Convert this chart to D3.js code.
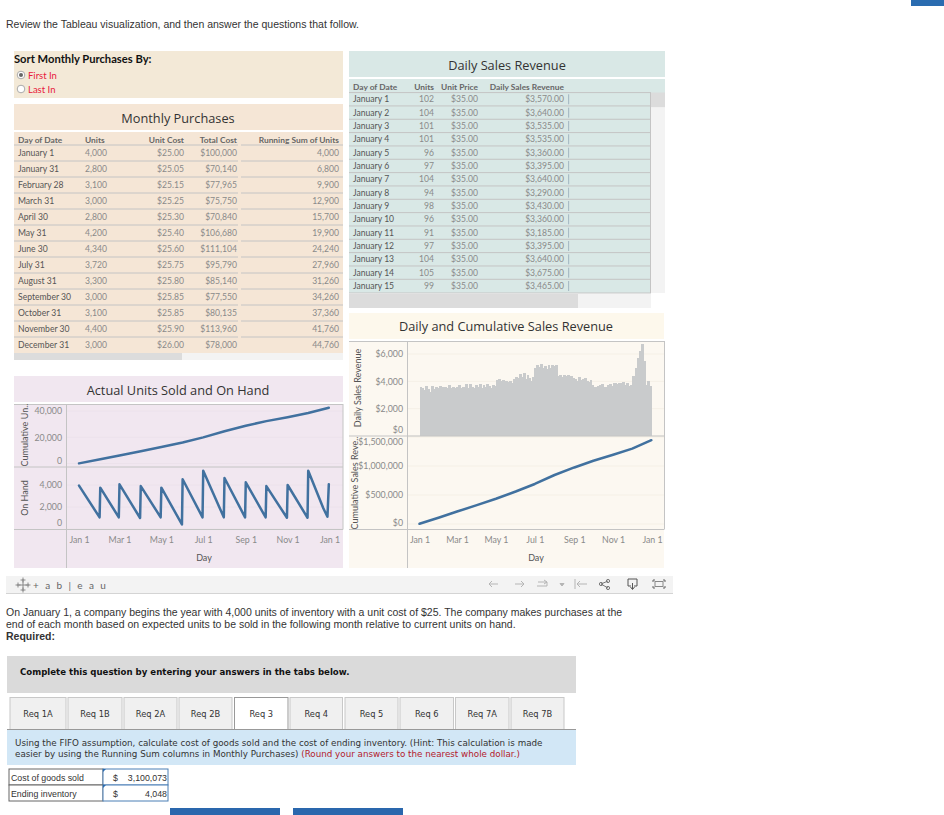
<!DOCTYPE html>
<html>
<head>
<meta charset="utf-8">
<title>Tableau visualization</title>
<script src="https://cdn.jsdelivr.net/npm/d3@7"></script>
<style>
  html, body { margin: 0; padding: 0; background: #fff; overflow: hidden; }
  svg { display: block; }
  text { font-family: Lato, "Open Sans", sans-serif; }
  .page { font-family: "Liberation Sans", Arial, sans-serif; font-size: 10.5px; fill: #333; }
  .verd { font-family: "DejaVu Sans", Verdana, sans-serif; font-size: 8.3px; fill: #333; }
  .title { font-family: "Open Sans", sans-serif; font-size: 12.75px; fill: #333; text-anchor: middle; dominant-baseline: central; }
  .hdr { font-size: 8.4px; fill: #666; font-weight: 700; dominant-baseline: central; }
  .dim { font-size: 8.6px; fill: #555; dominant-baseline: central; }
  .val { font-size: 8.6px; fill: #8a8a8a; dominant-baseline: central; }
  .tick text { font-size: 8.8px; fill: #8a8a8a; font-family: Lato, sans-serif; }
  .axis-title { font-size: 9px; fill: #555; text-anchor: middle; }
</style>
</head>
<body>
<svg id="chart" width="944" height="815"></svg>
<script>
// Monthly purchases table
const purchaseDates = ['January 1', 'January 31', 'February 28', 'March 31', 'April 30', 'May 31', 'June 30', 'July 31', 'August 31', 'September 30', 'October 31', 'November 30', 'December 31'];
const purchaseUnits = ['4,000', '2,800', '3,100', '3,000', '2,800', '4,200', '4,340', '3,720', '3,300', '3,000', '3,100', '4,400', '3,000'];
const purchaseUnitCost = ['$25.00', '$25.05', '$25.15', '$25.25', '$25.30', '$25.40', '$25.60', '$25.75', '$25.80', '$25.85', '$25.85', '$25.90', '$26.00'];
const purchaseTotalCost = ['$100,000', '$70,140', '$77,965', '$75,750', '$70,840', '$106,680', '$111,104', '$95,790', '$85,140', '$77,550', '$80,135', '$113,960', '$78,000'];
const purchaseRunning = ['4,000', '6,800', '9,900', '12,900', '15,700', '19,900', '24,240', '27,960', '31,260', '34,260', '37,360', '41,760', '44,760'];

// Daily sales table
const salesDates = ['January 1', 'January 2', 'January 3', 'January 4', 'January 5', 'January 6', 'January 7', 'January 8', 'January 9', 'January 10', 'January 11', 'January 12', 'January 13', 'January 14', 'January 15'];
const salesUnits = [102, 104, 101, 101, 96, 97, 104, 94, 98, 96, 91, 97, 104, 105, 99];
const salesRevenue = [3570, 3640, 3535, 3535, 3360, 3395, 3640, 3290, 3430, 3360, 3185, 3395, 3640, 3675, 3465];

const cumUnits = [['2021-01-01', 100], ['2021-02-01', 3200], ['2021-03-01', 6100], ['2021-04-01', 9300], ['2021-05-01', 12500], ['2021-06-01', 16000], ['2021-07-01', 19900], ['2021-08-01', 24600], ['2021-09-01', 28800], ['2021-10-01', 32300], ['2021-11-01', 35300], ['2021-12-01', 38500], ['2021-12-31', 42500]];
const onHand = [['2021-01-01', 3940], ['2021-01-31', 1060], ['2021-02-01', 3760], ['2021-02-28', 1060], ['2021-03-01', 4060], ['2021-03-31', 1000], ['2021-04-01', 3900], ['2021-04-30', 1060], ['2021-05-01', 3760], ['2021-05-31', 420], ['2021-06-01', 4520], ['2021-06-30', 1060], ['2021-07-01', 5300], ['2021-07-31', 1060], ['2021-08-01', 4640], ['2021-08-31', 1060], ['2021-09-01', 4240], ['2021-09-30', 1060], ['2021-10-01', 3900], ['2021-10-31', 1020], ['2021-11-01', 4000], ['2021-11-30', 1020], ['2021-12-01', 5300], ['2021-12-23', 1880], ['2021-12-29', 1120], ['2021-12-31', 4060]];
const cumRevenue = [['2021-01-01', 3570], ['2021-02-01', 112000], ['2021-03-01', 215000], ['2021-04-01', 325000], ['2021-05-01', 435000], ['2021-06-01', 560000], ['2021-07-01', 690000], ['2021-08-01', 845000], ['2021-09-01', 975000], ['2021-10-01', 1090000], ['2021-11-01', 1195000], ['2021-12-01', 1300000], ['2021-12-31', 1445000]];
// daily revenue, one reading per three days
const revenueReadings = [3570, 3535, 3360, 3640, 3430, 3185, 3640, 3465, 3600, 3500, 3650,
  3480, 3560, 3620, 3540, 3700, 3480, 3620, 3500, 3560,
  3760, 3480, 3600, 3560, 3780, 3520, 3800, 3560, 3480, 3700,
  3600, 3780, 3500, 3720, 3560, 3800, 3640, 3500, 3720, 3680,
  4100, 4150, 4050, 4080, 3980, 4000, 3950, 4020, 3900, 4200,
  4350, 4250, 4560, 4300, 4620, 4200, 4500, 4250, 4060, 4350,
  5000, 5200, 5050, 5240, 4950, 5100, 4900, 5180, 5000, 5220,
  5100, 5220, 4400, 4450, 4350, 4480, 4380, 4500, 4300, 4400,
  4280, 4200, 4050, 4350, 4100, 4150, 4250, 4000, 3950, 4100,
  3700, 3600, 3620, 3680, 3750, 3800, 3620, 3550, 3700, 3820,
  3680, 3850, 3880, 3780, 3900, 3850, 3920, 3700, 3880, 3650,
  3700, 4400, 4150, 5000, 5700, 6200, 6700, 5500, 3700, 4000, 3650];

const monthTicks = ['2021-01-01', '2021-03-01', '2021-05-01', '2021-07-01', '2021-09-01', '2021-11-01', '2022-01-01'];
const tabLabels = ['Req 1A', 'Req 1B', 'Req 2A', 'Req 2B', 'Req 3', 'Req 4', 'Req 5', 'Req 6', 'Req 7A', 'Req 7B'];

const parseDay = d3.utcParse('%Y-%m-%d');
const frameColor = '#c4c4c4';
const lineColor = '#41719f';

const svg = d3.select('#chart');

function box(x, y, w, h, fill) {
  return svg.append('rect').attr('x', x).attr('y', y).attr('width', w).attr('height', h).attr('fill', fill);
}
function rule(x1, y1, x2, y2, color) {
  return svg.append('line').attr('x1', x1).attr('y1', y1).attr('x2', x2).attr('y2', y2)
    .attr('stroke', color || frameColor).attr('stroke-width', 1);
}
function label(x, y, str, cls, anchor) {
  return svg.append('text').attr('x', x).attr('y', y).attr('class', cls)
    .attr('text-anchor', anchor || 'start').text(str);
}

// ---- page text
box(911, 0, 33, 6, '#2a6cb0');
label(6, 28, 'Review the Tableau visualization, and then answer the questions that follow.', 'page');

// ---- sort control
box(14, 51, 329, 47, '#f3e9d7');
label(14, 63, 'Sort Monthly Purchases By:', 'hdr').style('font-size', '11.2px').style('fill', '#111').style('dominant-baseline', 'auto');
[['First In', 75, true], ['Last In', 89, false]].forEach(([name, y, on]) => {
  svg.append('circle').attr('cx', 21).attr('cy', y).attr('r', 3.8).attr('fill', '#fff').attr('stroke', '#aaa');
  if (on) svg.append('circle').attr('cx', 21).attr('cy', y).attr('r', 2).attr('fill', '#666');
  label(28, y, name, 'dim').style('fill', '#e8193c').style('font-size', '9.5px');
});

// ---- monthly purchases table
box(14, 104, 329, 26, '#f5e6d6');
label(178, 117.5, 'Monthly Purchases', 'title');
box(14, 132, 329, 221, '#f5e6d6');
box(14, 353, 168, 7, '#dcdcdc');
box(182, 353, 161, 7, '#f3f3f3');
const rowY = d3.scaleLinear().domain([0, 1]).range([153, 169]);
label(18, 139.5, 'Day of Date', 'hdr');
label(85, 139.5, 'Units', 'hdr');
label(184, 139.5, 'Unit Cost', 'hdr', 'end');
label(237, 139.5, 'Total Cost', 'hdr', 'end');
label(339, 139.5, 'Running Sum of Units', 'hdr', 'end');
purchaseDates.forEach((d, i) => {
  const y = rowY(i);
  rule(14, y - 8, 238, y - 8);
  rule(241, y - 8, 343, y - 8);
  label(18, y, d, 'dim');
  label(85, y, purchaseUnits[i], 'val');
  label(184, y, purchaseUnitCost[i], 'val', 'end');
  label(237, y, purchaseTotalCost[i], 'val', 'end');
  label(339, y, purchaseRunning[i], 'val', 'end');
});

// ---- daily sales table
box(349, 51, 316, 26, '#d9e8e6');
label(507, 64.5, 'Daily Sales Revenue', 'title');
box(349, 79, 316, 14, '#d9e8e6');
box(349, 92.5, 302, 200.5, '#d9e8e6');
box(651, 92.5, 14, 15, '#dcdcdc');
box(651, 107.5, 14, 185.5, '#f3f3f3');
box(349, 294, 229, 14, '#dcdcdc');
box(578, 294, 73, 14, '#f3f3f3');
const salesRowY = d3.scaleLinear().domain([0, 14]).range([99.3, 286]);
const cellBar = d3.scaleLinear().domain([0, 3600]).range([0, 1.2]);
label(353, 86.5, 'Day of Date', 'hdr');
label(434, 86.5, 'Units', 'hdr', 'end');
label(478, 86.5, 'Unit Price', 'hdr', 'end');
label(564, 86.5, 'Daily Sales Revenue', 'hdr', 'end');
salesDates.forEach((d, i) => {
  const y = salesRowY(i);
  rule(349, y - 6.7, 651, y - 6.7);
  label(353, y, d, 'dim');
  label(434, y, salesUnits[i], 'val', 'end');
  label(478, y, '$35.00', 'val', 'end');
  label(564, y, d3.format('$,.2f')(salesRevenue[i]), 'val', 'end');
  box(568, y - 5, cellBar(salesRevenue[i]), 10, '#a9bcc6');
});
rule(349, 293, 651, 293);
rule(650.5, 92.5, 650.5, 293);

// ---- shared axis helpers
const timeTicks = monthTicks.map(parseDay);
const tickFmt = d3.utcFormat('%b %-d');

function valueAxis(scale, ticks, fmt, x, left, right, top, bottom, gridColor) {
  svg.append('g').selectAll('line').data(ticks).enter().append('line')
    .attr('x1', left).attr('x2', right).attr('y1', d => scale(d)).attr('y2', d => scale(d))
    .attr('stroke', gridColor);
  const g = svg.append('g').attr('transform', `translate(${x},0)`)
    .call(d3.axisLeft(scale).tickValues(ticks).tickFormat(fmt).tickSize(0).tickPadding(0));
  g.select('.domain').remove();
  // tableau pulls edge labels back inside the pane
  g.selectAll('.tick text').attr('y', d => {
    const yy = scale(d);
    return Math.min(Math.max(yy, top + 6), bottom - 6) - yy;
  });
}
function dayAxis(scale, y) {
  const g = svg.append('g').attr('transform', `translate(0,${y})`)
    .call(d3.axisBottom(scale).tickValues(timeTicks).tickFormat(d => tickFmt(d)).tickSize(0).tickPadding(0));
  g.select('.domain').remove();
}
function drawLine(data, x, y) {
  svg.append('path')
    .datum(data)
    .attr('fill', 'none')
    .attr('stroke', lineColor)
    .attr('stroke-width', 2.5)
    .attr('stroke-linejoin', 'round')
    .attr('stroke-linecap', 'round')
    .attr('d', d3.line().x(d => x(parseDay(d[0]))).y(d => y(d[1])));
}

// ---- actual units sold and on hand
box(14, 376, 329, 26, '#f1e7f0');
label(178, 390, 'Actual Units Sold and On Hand', 'title');
box(14, 404, 329, 164, '#f1e7f0');
const xLeft = d3.scaleUtc().domain([parseDay('2021-01-01'), parseDay('2022-01-01')]).range([79, 329.5]);
const yUnits = d3.scaleLinear().domain([0, 40000]).range([463.5, 411]);
const yOnHand = d3.scaleLinear().domain([0, 4000]).range([529, 485]);
valueAxis(yUnits, [0, 20000, 40000], d3.format(','), 62, 66.5, 343, 404, 467, '#ece2eb');
valueAxis(yOnHand, [0, 2000, 4000], d3.format(','), 62, 66.5, 343, 467, 529, '#ece2eb');
dayAxis(xLeft, 536.5);
rule(14, 404.5, 343, 404.5);
rule(14, 467, 343, 467);
rule(14, 529.5, 343, 529.5);
rule(66.5, 404, 66.5, 568);
rule(343, 404, 343, 529.5);
drawLine(cumUnits, xLeft, yUnits);
drawLine(onHand, xLeft, yOnHand);
svg.append('text').attr('class', 'axis-title').attr('transform', 'translate(28,435) rotate(-90)').text('Cumulative Un..');
svg.append('text').attr('class', 'axis-title').attr('transform', 'translate(28,498) rotate(-90)').text('On Hand');
label(204, 561, 'Day', 'axis-title');

// ---- daily and cumulative sales revenue
box(349, 313, 315, 26, '#fdf8ec');
label(506, 326, 'Daily and Cumulative Sales Revenue', 'title');
box(349, 341, 315, 227, '#fcf8f1');
const xRight = d3.scaleUtc().domain([parseDay('2021-01-01'), parseDay('2022-01-01')]).range([419.5, 652]);
const yDaily = d3.scaleLinear().domain([0, 6000]).range([436, 354]);
const yCum = d3.scaleLinear().domain([0, 1500000]).range([524, 437]);
valueAxis(yDaily, [0, 2000, 4000, 6000], d3.format('$,'), 403, 407.5, 664, 341, 436, '#f5f0e6');
valueAxis(yCum, [0, 500000, 1000000, 1500000], d3.format('$,'), 403, 407.5, 664, 436, 529, '#f5f0e6');
dayAxis(xRight, 536.5);
const firstDay = parseDay('2021-01-01');
svg.append('g').attr('shape-rendering', 'crispEdges').selectAll('rect').data(revenueReadings).enter().append('rect')
  .attr('x', (d, i) => xRight(d3.utcDay.offset(firstDay, i * 3)))
  .attr('width', xRight(d3.utcDay.offset(firstDay, 3)) - xRight(firstDay) + 1)
  .attr('y', d => yDaily(d))
  .attr('height', d => yDaily(0) - yDaily(d))
  .attr('fill', '#c9cbcc');
rule(349, 341.5, 664, 341.5);
rule(349, 436, 664, 436);
rule(349, 529.5, 664, 529.5);
rule(407.5, 341, 407.5, 568);
rule(664.5, 341, 664.5, 529.5);
drawLine(cumRevenue, xRight, yCum);
svg.append('text').attr('class', 'axis-title').attr('transform', 'translate(361,388) rotate(-90)').text('Daily Sales Revenue');
svg.append('text').attr('class', 'axis-title').attr('transform', 'translate(357.5,483) rotate(-90)').text('Cumulative Sales Reve..');
label(536, 561, 'Day', 'axis-title');

// ---- tableau toolbar
box(6, 576, 667, 17, '#f3f3f3');
rule(6, 593.5, 673, 593.5, '#d4d4d4');
const logo = svg.append('g').attr('stroke', '#8a8a8a').attr('stroke-width', 1);
[[23, 585, 6], [18, 585, 2.5], [28, 585, 2.5], [23, 580, 2.5], [23, 590, 2.5]].forEach(([cx, cy, r]) => {
  logo.append('line').attr('x1', cx - r).attr('x2', cx + r).attr('y1', cy).attr('y2', cy);
  logo.append('line').attr('x1', cx).attr('x2', cx).attr('y1', cy - r).attr('y2', cy + r);
});
label(33, 588.5, '+ a b | e a u', 'dim').style('font-size', '10px').style('letter-spacing', '1.9px').style('fill', '#666').style('dominant-baseline', 'auto');
const icons = svg.append('g').attr('fill', 'none').attr('stroke', '#b5b5b5').attr('stroke-width', 1);
icons.append('path').attr('d', 'M489 584h9M492 581l-3 3 3 3');
icons.append('path').attr('d', 'M515 584h9M521 581l3 3-3 3');
icons.append('path').attr('d', 'M538 582h9v4h-10M544 580l3 2-3 2');
icons.append('path').attr('d', 'M560 583.5h4l-2 2.5z').attr('fill', '#b5b5b5');
icons.append('path').attr('d', 'M575 579v10M587 584h-10M580 581l-3 3 3 3');
icons.append('path').attr('d', 'M601 584l7-3M601 584l7 4').attr('stroke', '#777');
[[601, 584], [608, 581], [608, 588]].forEach(([cx, cy]) => icons.append('circle').attr('cx', cx).attr('cy', cy).attr('r', 1.6).attr('stroke', '#777'));
icons.append('path').attr('d', 'M628 579h9v7h-3M631 586h-3v-7M632.5 583v6M630.5 587l2 2.5 2-2.5').attr('stroke', '#555');
icons.append('path').attr('d', 'M655 580h-2v2M663 580h2v2M655 588h-2v-2M663 588h2v-2').attr('stroke', '#666');
icons.append('rect').attr('x', 655).attr('y', 581.5).attr('width', 8).attr('height', 5).attr('stroke', '#888');

// ---- question text
label(6, 616, 'On January 1, a company begins the year with 4,000 units of inventory with a unit cost of $25. The company makes purchases at the', 'page');
label(6, 628, 'end of each month based on expected units to be sold in the following month relative to current units on hand.', 'page');
label(6, 640, 'Required:', 'page').style('font-weight', 700);

box(7, 656, 569, 37, '#dadada');
label(20, 675, 'Complete this question by entering your answers in the tabs below.', 'verd').style('font-weight', 700).style('fill', '#111').style('font-size', '8.6px');

// ---- tabs
const tabLeft = [10, 68, 124, 179, 234.5, 290, 345, 400, 455.5, 511];
const tabRight = [66, 122, 177, 232, 288, 342.5, 398, 453.5, 509, 564];
tabLabels.forEach((t, i) => {
  const active = t === 'Req 3';
  svg.append('rect').attr('x', tabLeft[i]).attr('y', 697.5).attr('width', tabRight[i] - tabLeft[i]).attr('height', 32)
    .attr('fill', active ? '#fff' : '#f0f0f0').attr('stroke', active ? '#999' : '#c8c8c8');
  label((tabLeft[i] + tabRight[i]) / 2, 717, t, 'verd', 'middle');
});
rule(7, 729.5, 576, 729.5, '#999');

box(7, 730, 569, 35, '#d2e7f6');
label(15, 746, 'Using the FIFO assumption, calculate cost of goods sold and the cost of ending inventory. (Hint: This calculation is made', 'verd').style('font-size', '8.75px');
const hint = label(15, 757, 'easier by using the Running Sum columns in Monthly Purchases) ', 'verd').style('font-size', '8.75px');
hint.append('tspan').style('fill', '#b3202c').text('(Round your answers to the nearest whole dollar.)');

// ---- answer table
[['Cost of goods sold', '3,100,073', 769], ['Ending inventory', '4,048', 785]].forEach(([name, amount, y]) => {
  svg.append('rect').attr('x', 9).attr('y', y).attr('width', 94).attr('height', 16).attr('fill', '#fff').attr('stroke', '#666');
  svg.append('rect').attr('x', 103).attr('y', y).attr('width', 65).attr('height', 16).attr('fill', '#fff').attr('stroke', '#4a7fb5');
  svg.append('path').attr('d', `M103 ${y}h3l-3 3z`).attr('fill', '#2a6cb0');
  label(11, y + 11.5, name, 'page').style('font-size', '8.8px');
  label(113, y + 11.5, '$', 'page').style('font-size', '8.8px');
  label(167, y + 11.5, amount, 'page', 'end').style('font-size', '8.8px');
});
box(170, 808, 110, 7, '#2a67ad');
box(293, 808, 110, 7, '#2a67ad');
</script>
</body>
</html>
